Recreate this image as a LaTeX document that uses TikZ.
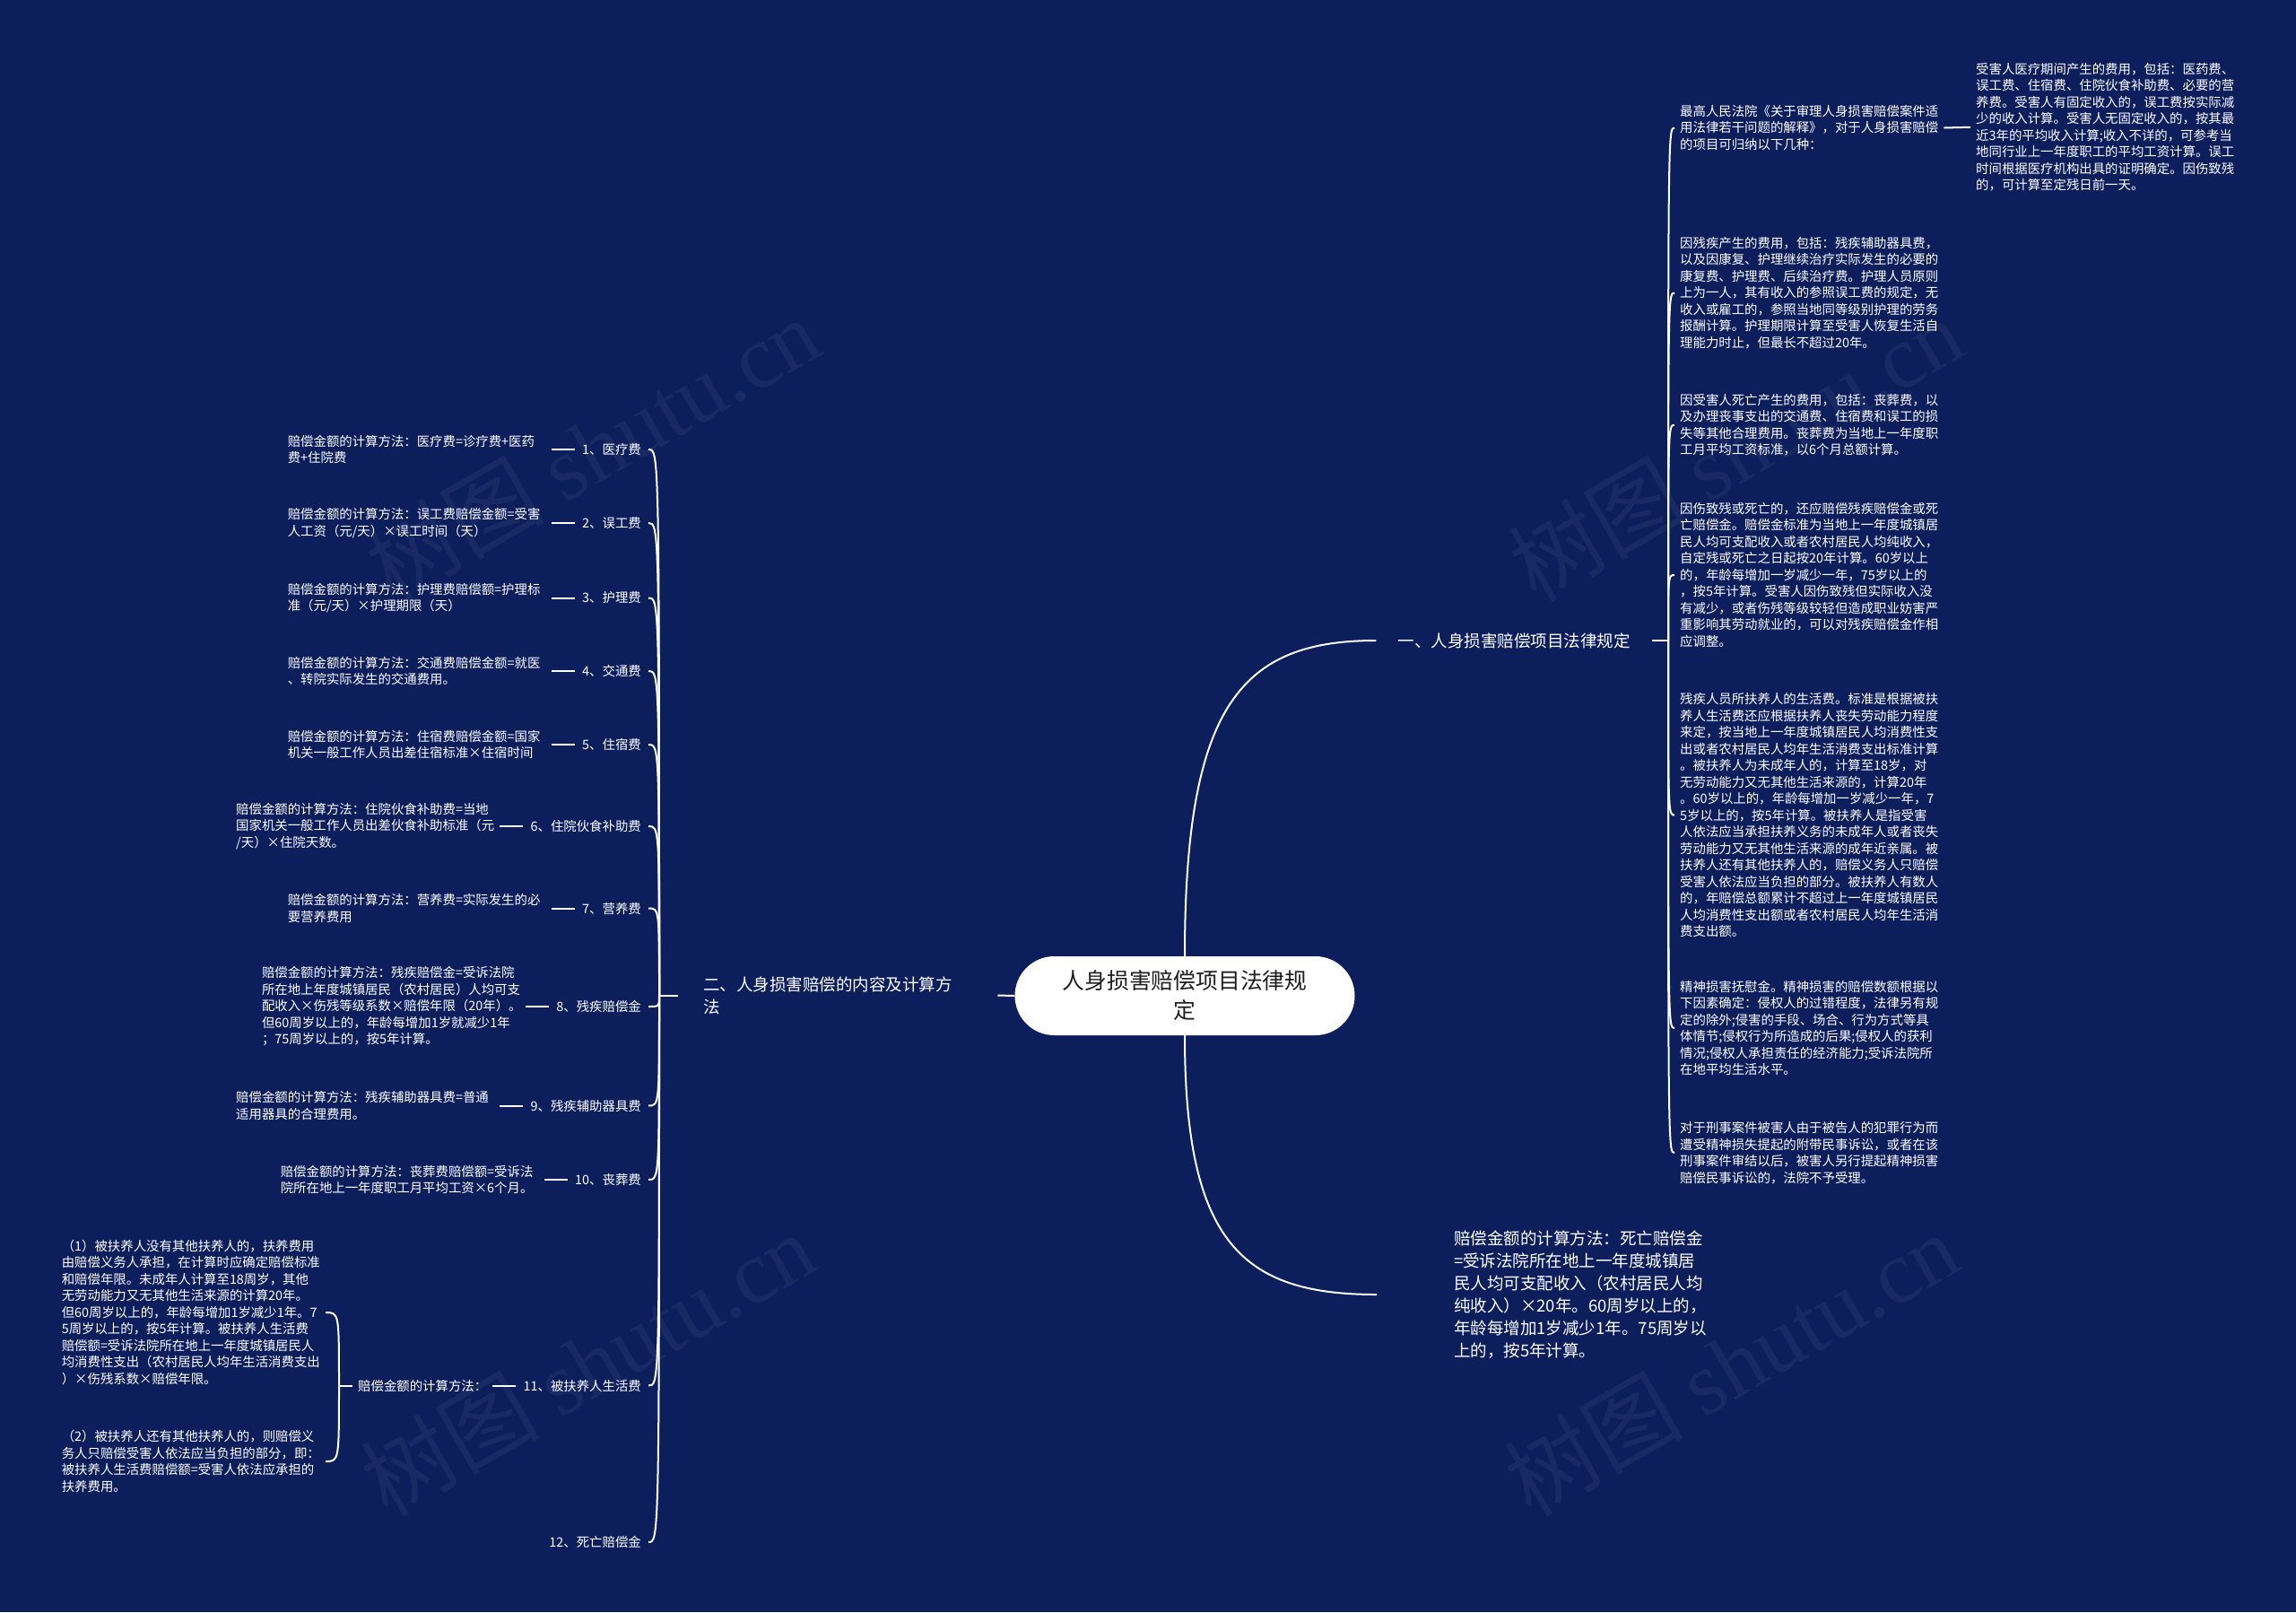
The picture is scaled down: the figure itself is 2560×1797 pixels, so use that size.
\documentclass[tikz,border=0pt]{standalone}
\usepackage{fontspec}
\setmainfont{Noto Sans CJK SC}
\newfontfamily\wmserif{Liberation Serif}
\usetikzlibrary{calc,positioning}
\definecolor{bgc}{RGB}{12,30,92}
\definecolor{ctext}{RGB}{30,30,30}
\begin{document}
\begin{tikzpicture}[x=1pt,y=-1pt,
  conn/.style={draw=white, line width=2pt},
  small/.style={text=white, font=\fontsize{14.4pt}{18.5pt}\selectfont, inner ysep=2pt},
  para/.style={small, align=left, text width=288pt, inner xsep=6pt},
  lab/.style={small, inner xsep=8pt, anchor=east},
  big/.style={text=white, font=\fontsize{18.5pt}{25pt}\selectfont},
  wm/.style={text=white, opacity=0.05, font=\fontsize{100pt}{100pt}\selectfont}
]
\fill[bgc] (0,0) rectangle (2560,1797);
\useasboundingbox (0,0) rectangle (2560,1797);

% watermarks
\node[wm, rotate=30] (w1) at (660,500) {树图 {\wmserif shutu.cn}};
\node[wm, rotate=30] (w2) at (1935,500) {树图 {\wmserif shutu.cn}};
\node[wm, rotate=30] (w3) at (655,1520) {树图 {\wmserif shutu.cn}};
\node[wm, rotate=30] (w4) at (1930,1520) {树图 {\wmserif shutu.cn}};

% center
\node[fill=white, rounded corners=44pt, minimum width=379pt, minimum height=88pt,
      text=ctext, align=center, font=\fontsize{24.8pt}{33pt}\selectfont, inner sep=0pt]
  (c) at (1321,1110) {人身损害赔偿项目法律规\\定};

% branches
\node[big, inner xsep=24pt] (b1) at (1688,714) {一、人身损害赔偿项目法律规定};
\node[big, align=left, text width=300pt, inner xsep=28pt, anchor=west] (b2) at (756,1109.5)
  {二、人身损害赔偿的内容及计算方\\法};
\node[big, align=left, text width=290pt, inner xsep=86pt, anchor=west] (b3) at (1535,1443)
  {赔偿金额的计算方法：死亡赔偿金\\=受诉法院所在地上一年度城镇居\\民人均可支配收入（农村居民人均\\纯收入）×20年。60周岁以上的，\\年龄每增加1岁减少1年。75周岁以\\上的，按5年计算。};

% right column
\coordinate (rj) at (1860,714);
\node[para, anchor=west] (r1) at (1867,142.5)
  {最高人民法院《关于审理人身损害赔偿案件适\\用法律若干问题的解释》，对于人身损害赔偿\\的项目可归纳以下几种：};
\node[para, anchor=west] (tr) at (2197,141.75)
  {受害人医疗期间产生的费用，包括：医药费、\\误工费、住宿费、住院伙食补助费、必要的营\\养费。受害人有固定收入的，误工费按实际减\\少的收入计算。受害人无固定收入的，按其最\\近3年的平均收入计算;收入不详的，可参考当\\地同行业上一年度职工的平均工资计算。误工\\时间根据医疗机构出具的证明确定。因伤致残\\的，可计算至定残日前一天。};
\node[para, anchor=west] (r2) at (1867,326.5)
  {因残疾产生的费用，包括：残疾辅助器具费，\\以及因康复、护理继续治疗实际发生的必要的\\康复费、护理费、后续治疗费。护理人员原则\\上为一人，其有收入的参照误工费的规定，无\\收入或雇工的，参照当地同等级别护理的劳务\\报酬计算。护理期限计算至受害人恢复生活自\\理能力时止，但最长不超过20年。};
\node[para, anchor=west] (r3) at (1867,473.75)
  {因受害人死亡产生的费用，包括：丧葬费，以\\及办理丧事支出的交通费、住宿费和误工的损\\失等其他合理费用。丧葬费为当地上一年度职\\工月平均工资标准，以6个月总额计算。};
\node[para, anchor=west] (r4) at (1867,641)
  {因伤致残或死亡的，还应赔偿残疾赔偿金或死\\亡赔偿金。赔偿金标准为当地上一年度城镇居\\民人均可支配收入或者农村居民人均纯收入，\\自定残或死亡之日起按20年计算。60岁以上\\的，年龄每增加一岁减少一年，75岁以上的\\，按5年计算。受害人因伤致残但实际收入没\\有减少，或者伤残等级较轻但造成职业妨害严\\重影响其劳动就业的，可以对残疾赔偿金作相\\应调整。};
\node[para, anchor=west] (r5) at (1867,908.5)
  {残疾人员所扶养人的生活费。标准是根据被扶\\养人生活费还应根据扶养人丧失劳动能力程度\\来定，按当地上一年度城镇居民人均消费性支\\出或者农村居民人均年生活消费支出标准计算\\。被扶养人为未成年人的，计算至18岁，对\\无劳动能力又无其他生活来源的，计算20年\\。60岁以上的，年龄每增加一岁减少一年，7\\5岁以上的，按5年计算。被扶养人是指受害\\人依法应当承担扶养义务的未成年人或者丧失\\劳动能力又无其他生活来源的成年近亲属。被\\扶养人还有其他扶养人的，赔偿义务人只赔偿\\受害人依法应当负担的部分。被扶养人有数人\\的，年赔偿总额累计不超过上一年度城镇居民\\人均消费性支出额或者农村居民人均年生活消\\费支出额。};
\node[para, anchor=west] (r6) at (1867,1146)
  {精神损害抚慰金。精神损害的赔偿数额根据以\\下因素确定：侵权人的过错程度，法律另有规\\定的除外;侵害的手段、场合、行为方式等具\\体情节;侵权行为所造成的后果;侵权人的获利\\情况;侵权人承担责任的经济能力;受诉法院所\\在地平均生活水平。};
\node[para, anchor=west] (r7) at (1867,1285)
  {对于刑事案件被害人由于被告人的犯罪行为而\\遭受精神损失提起的附带民事诉讼，或者在该\\刑事案件审结以后，被害人另行提起精神损害\\赔偿民事诉讼的，法院不予受理。};

% left column labels
\coordinate (lj) at (735,1109.5);
\node[lab] (L1) at (723,501) {1、医疗费};
\node[lab] (L2) at (723,583) {2、误工费};
\node[lab] (L3) at (723,666.5) {3、护理费};
\node[lab] (L4) at (723,748) {4、交通费};
\node[lab] (L5) at (723,830) {5、住宿费};
\node[lab] (L6) at (723,921) {6、住院伙食补助费};
\node[lab] (L7) at (723,1012.5) {7、营养费};
\node[lab] (L8) at (723,1122) {8、残疾赔偿金};
\node[lab] (L9) at (723,1232.5) {9、残疾辅助器具费};
\node[lab] (L10) at (723,1315) {10、丧葬费};
\node[lab] (L11) at (723,1544.5) {11、被扶养人生活费};
\node[lab] (L12) at (723,1719) {12、死亡赔偿金};

% left descriptions
\node[para, left=26pt of L1] (D1) {赔偿金额的计算方法：医疗费=诊疗费+医药\\费+住院费};
\node[para, left=26pt of L2] (D2) {赔偿金额的计算方法：误工费赔偿金额=受害\\人工资（元/天）×误工时间（天）};
\node[para, left=26pt of L3] (D3) {赔偿金额的计算方法：护理费赔偿额=护理标\\准（元/天）×护理期限（天）};
\node[para, left=26pt of L4] (D4) {赔偿金额的计算方法：交通费赔偿金额=就医\\、转院实际发生的交通费用。};
\node[para, left=26pt of L5] (D5) {赔偿金额的计算方法：住宿费赔偿金额=国家\\机关一般工作人员出差住宿标准×住宿时间};
\node[para, left=26pt of L6] (D6) {赔偿金额的计算方法：住院伙食补助费=当地\\国家机关一般工作人员出差伙食补助标准（元\\/天）×住院天数。};
\node[para, left=26pt of L7] (D7) {赔偿金额的计算方法：营养费=实际发生的必\\要营养费用};
\node[para, left=26pt of L8] (D8) {赔偿金额的计算方法：残疾赔偿金=受诉法院\\所在地上年度城镇居民（农村居民）人均可支\\配收入×伤残等级系数×赔偿年限（20年）。\\但60周岁以上的，年龄每增加1岁就减少1年\\；75周岁以上的，按5年计算。};
\node[para, left=26pt of L9] (D9) {赔偿金额的计算方法：残疾辅助器具费=普通\\适用器具的合理费用。};
\node[para, left=26pt of L10] (D10) {赔偿金额的计算方法：丧葬费赔偿额=受诉法\\院所在地上一年度职工月平均工资×6个月。};

% item 11 sub-tree
\node[small, inner xsep=6pt, left=26pt of L11] (m11) {赔偿金额的计算方法：};
\coordinate (sj) at (378,1544.5);
\node[para, anchor=east] (s1) at (363,1463)
  {（1）被扶养人没有其他扶养人的，扶养费用\\由赔偿义务人承担，在计算时应确定赔偿标准\\和赔偿年限。未成年人计算至18周岁，其他\\无劳动能力又无其他生活来源的计算20年。\\但60周岁以上的，年龄每增加1岁减少1年。7\\5周岁以上的，按5年计算。被扶养人生活费\\赔偿额=受诉法院所在地上一年度城镇居民人\\均消费性支出（农村居民人均年生活消费支出\\）×伤残系数×赔偿年限。};
\node[para, anchor=east] (s2) at (363,1629)
  {（2）被扶养人还有其他扶养人的，则赔偿义\\务人只赔偿受害人依法应当负担的部分，即：\\被扶养人生活费赔偿额=受害人依法应承担的\\扶养费用。};

% connectors
\draw[conn] (c.north) .. controls ($(c.north)!0.8!(c.north |- b1.west)$) and ($(b1.west)!0.7!(c.north |- b1.west)$) .. (b1.west);
\draw[conn] (c.south) .. controls ($(c.south)!0.8!(c.south |- b3.west)$) and ($(b3.west)!0.7!(c.south |- b3.west)$) .. (b3.west);
\draw[conn] (c.west) -- (b2.east);
\draw[conn] (b1.east) -- (rj);
\foreach \n in {r1,r2,r3,r4,r5,r6,r7}
  \draw[conn] (rj) .. controls (rj |- \n.west) and (rj |- \n.west) .. (\n.west);
\draw[conn] (r1.east) -- (tr.west);
\draw[conn] (b2.west) -- (lj);
\foreach \n in {L1,L2,L3,L4,L5,L6,L7,L8,L9,L10,L11,L12}
  \draw[conn] (lj) .. controls (lj |- \n.east) and (lj |- \n.east) .. (\n.east);
\foreach \k in {1,...,10}
  \draw[conn] (D\k.east) -- (L\k.west);
\draw[conn] (m11.east) -- (L11.west);
\draw[conn] (m11.west) -- (sj);
\draw[conn] (sj) .. controls (sj |- s1.east) and (sj |- s1.east) .. (s1.east);
\draw[conn] (sj) .. controls (sj |- s2.east) and (sj |- s2.east) .. (s2.east);
\end{tikzpicture}
\end{document}
